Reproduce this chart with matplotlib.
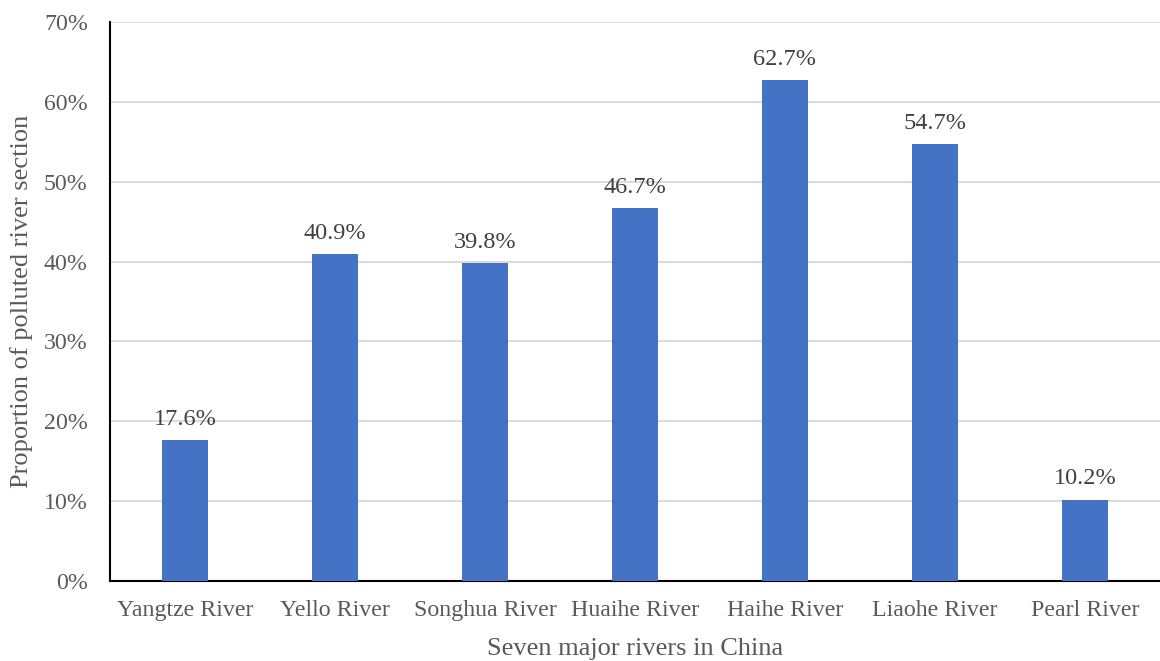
import numpy as np
import matplotlib.pyplot as plt

# Datos
rivers = ['Yangtze River', 'Yello River', 'Songhua River', 'Huaihe River',
          'Haihe River', 'Liaohe River', 'Pearl River']
polluted = [17.6, 40.9, 39.8, 46.7, 62.7, 54.7, 10.2]

plt.rcParams['font.family'] = ['Liberation Serif', 'DejaVu Serif']

fig = plt.figure(figsize=(11.6, 6.61), dpi=100)
ax = fig.add_axes([110 / 1160, 80 / 661, 1050 / 1160, 559 / 661])

x = np.arange(len(rivers))
bars = ax.bar(x, polluted, width=0.31, color='#4472C4', zorder=3)

for xi, v in zip(x, polluted):
    ax.text(xi, v + 1.3, f'{v:.1f}%', ha='center', va='bottom',
            fontsize=17.5, color='#404040')

ax.set_xlim(-0.5, len(rivers) - 0.5)
ax.set_ylim(0, 70)
ax.set_yticks(np.arange(0, 71, 10))
ax.set_yticklabels([f'{t}%' for t in range(0, 71, 10)])
ax.set_xticks(x)
ax.set_xticklabels(rivers)
ax.tick_params(length=0, labelsize=17.2, labelcolor='#595959')
ax.tick_params(axis='x', pad=14)
ax.tick_params(axis='y', pad=16)

ax.grid(axis='y', color='#D9D9D9', linewidth=1.3, zorder=0)
for s in ['top', 'right']:
    ax.spines[s].set_visible(False)
ax.spines['left'].set_color('black')
ax.spines['bottom'].set_color('black')
ax.spines['left'].set_linewidth(1.5)
ax.spines['bottom'].set_linewidth(1.5)

ax.set_xlabel('Seven major rivers in China', fontsize=19, color='#595959', labelpad=12)
ax.set_ylabel('Proportion of polluted river section', fontsize=19, color='#595959', labelpad=8)

fig.savefig('out.png', dpi=100)
